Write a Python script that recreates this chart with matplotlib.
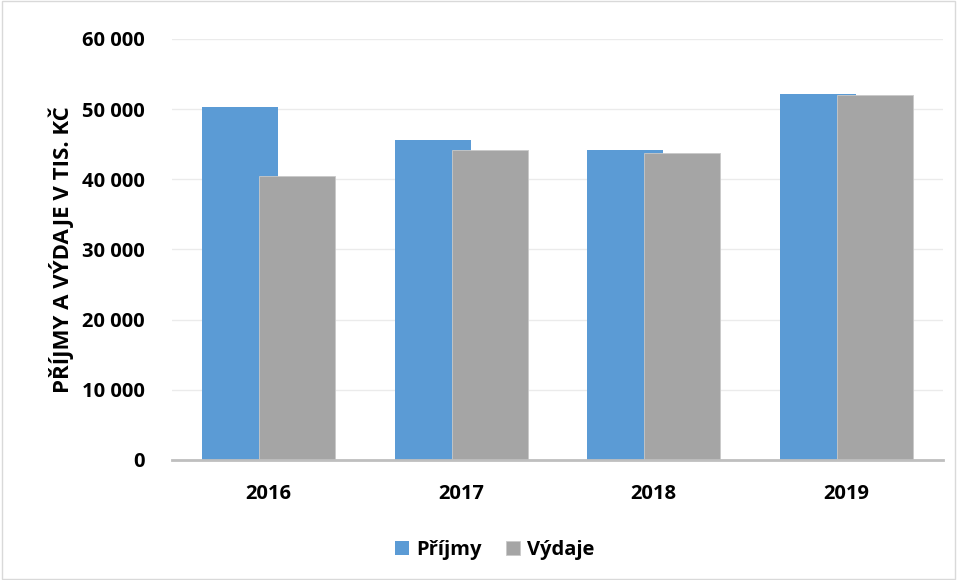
import matplotlib.pyplot as plt
import numpy as np
from matplotlib.patches import Rectangle

plt.rcParams['font.family'] = ['Open Sans', 'DejaVu Sans']

# data
years = ['2016', '2017', '2018', '2019']
prijmy = [50300, 45600, 44200, 52100]
vydaje = [40500, 44100, 43800, 52000]
yticks = [0, 10000, 20000, 30000, 40000, 50000, 60000]

fig = plt.figure(figsize=(9.57, 5.8), dpi=100)
ax = fig.add_axes([0.18, 0.207, 0.805, 0.726])

x = np.arange(len(years))
w = 0.394
off = 0.148
ax.bar(x - off, prijmy, w, color='#5B9BD5', label='Příjmy', zorder=2)
ax.bar(x + off, vydaje, w, color='#A5A5A5', edgecolor='#C9C9C9', linewidth=0.6,
       label='Výdaje', zorder=3)

ax.set_xlim(-0.5, len(years) - 0.5)
ax.set_ylim(0, 60000)
ax.set_yticks(yticks)
ax.set_yticklabels([f"{v:,}".replace(',', ' ') for v in yticks],
                   fontsize=14.5, fontweight='bold')
ax.set_xticks(x)
ax.set_xticklabels(years, fontsize=14.5, fontweight='bold')
ax.tick_params(length=0)
ax.tick_params(axis='x', pad=17)
ax.tick_params(axis='y', pad=20)

ax.grid(axis='y', color='#EBEBEB', linewidth=1, zorder=0)
ax.set_axisbelow(True)
for s in ['top', 'right', 'left']:
    ax.spines[s].set_visible(False)
ax.spines['bottom'].set_color('#BFBFBF')
ax.spines['bottom'].set_linewidth(2)
ax.spines['bottom'].set_zorder(4)

ax.set_ylabel('PŘÍJMY A VÝDAJE V TIS. KČ', fontsize=16, fontweight='bold')
ax.yaxis.set_label_coords(-0.127, 0.5)

ax.legend(loc='center', bbox_to_anchor=(0.419, -0.213), ncol=2, frameon=False,
          prop={'size': 14.5, 'weight': 'bold'}, handlelength=0.7, handleheight=0.7,
          columnspacing=1.2, handletextpad=0.35)

fig.patches.append(Rectangle((0.002, 0.002), 0.996, 0.996, transform=fig.transFigure,
                             fill=False, edgecolor='#D9D9D9', linewidth=1))

fig.savefig('out.png', dpi=100)
